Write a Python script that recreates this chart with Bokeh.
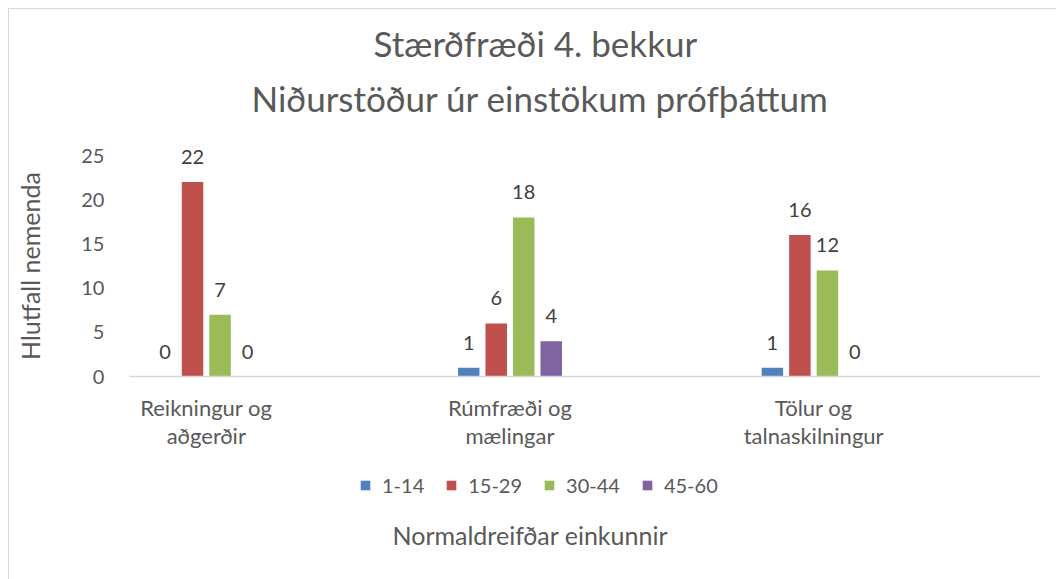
import math
from bokeh.plotting import figure
from bokeh.models import Range1d, FixedTicker, Legend, LegendItem, Title, ColumnDataSource, Label
from bokeh.transform import dodge
from bokeh.core.properties import value
from bokeh.embed import file_html
from bokeh.resources import INLINE

# ---- data ----
categories = ["Reikningur og\naðgerðir", "Rúmfræði og\nmælingar", "Tölur og\ntalnaskilningur"]
series_names = ["1-14", "15-29", "30-44", "45-60"]
s_1_14 = [0, 1, 1]
s_15_29 = [22, 6, 16]
s_30_44 = [7, 18, 12]
s_45_60 = [0, 4, 0]
y_ticks = [0, 5, 10, 15, 20, 25]

series_values = [s_1_14, s_15_29, s_30_44, s_45_60]
colors = ["#4F81BD", "#C0504D", "#9BBB59", "#8064A2"]

FONT = "Lato"
AXIS_TEXT = "#595959"

cat_idx = list(range(len(categories)))
data = {"x": cat_idx}
for name, vals in zip(series_names, series_values):
    data[name] = vals
    data[name + "_lbl"] = [str(v) for v in vals]
source = ColumnDataSource(data)

X0, X1 = -0.253, 2.747   # category-axis extent
# the frame reaches left/below the axes so that axis texts and legend drawn inside are not clipped
p = figure(width=1048, height=571, output_backend="svg", toolbar_location=None, title=None,
           x_range=Range1d(-0.648, X1), y_range=Range1d(-15.05, 27.5),
           min_border_left=0, min_border_right=17, min_border_top=124,
           min_border_bottom=71)
p.styles = {"margin-left": "8px", "margin-top": "8px",
            "border-left": "1px solid #d9d9d9", "border-top": "1px solid #d9d9d9"}
p.outline_line_color = None
p.background_fill_color = "white"
p.border_fill_color = "white"
p.xgrid.visible = False
p.ygrid.visible = False

pitch = 0.0906
bar_w = 0.0708
renderers = []
for k, (name, col) in enumerate(zip(series_names, colors)):
    off = (k - 1.5) * pitch
    r = p.vbar(x=dodge("x", off, range=p.x_range), top=name, bottom=0, width=bar_w,
               source=source, fill_color=col, line_color=None)
    renderers.append(r)
    p.text(x=dodge("x", off, range=p.x_range), y=name, text=name + "_lbl", source=source,
           text_align="center", text_baseline="middle", y_offset=-25,
           text_font=value(FONT), text_font_size="20px", text_color="#404040")

# titles (first added is closest to the plot)
t2 = Title(text="Niðurstöður úr einstökum prófþáttum", align="left", offset=242,
           text_font=FONT, text_font_size="35px", text_font_style="normal",
           text_color=AXIS_TEXT, standoff=29)
t1 = Title(text="Stærðfræði 4. bekkur", align="left", offset=364,
           text_font=FONT, text_font_size="35px", text_font_style="normal",
           text_color=AXIS_TEXT, standoff=-6)
p.add_layout(t2, "above")
p.add_layout(t1, "above")

# category axis at value 0
xa = p.xaxis[0]
xa.fixed_location = 0
xa.bounds = (X0, X1)
xa.ticker = FixedTicker(ticks=cat_idx)
xa.major_label_overrides = {i: c for i, c in zip(cat_idx, categories)}
xa.axis_line_color = "#D9D9D9"
xa.axis_line_width = 1.5
xa.major_tick_line_color = None
xa.minor_tick_line_color = None
xa.major_label_standoff = 11
xa.major_label_text_font = FONT
xa.major_label_text_font_size = "22px"
xa.major_label_text_color = AXIS_TEXT
xa.major_label_text_line_height = 1.05

# value axis at the left end of the category axis
ya = p.yaxis[0]
ya.fixed_location = X0
ya.ticker = FixedTicker(ticks=y_ticks)
ya.axis_line_color = None
ya.major_tick_line_color = None
ya.minor_tick_line_color = None
ya.major_label_standoff = 19
ya.major_label_text_font = FONT
ya.major_label_text_font_size = "20px"
ya.major_label_text_color = AXIS_TEXT

# value-axis title
yt = Label(x=-0.579, y=(y_ticks[0] + y_ticks[-1]) / 2, text="Hlutfall nemenda", angle=math.pi / 2,
           text_align="center", text_baseline="middle",
           text_font=FONT, text_font_size="25px", text_color=AXIS_TEXT)
p.add_layout(yt)

legend = Legend(items=[LegendItem(label=n, renderers=[r]) for n, r in zip(series_names, renderers)],
                orientation="horizontal", location=(350, 12),
                glyph_width=12, glyph_height=12, label_standoff=11, spacing=21,
                padding=0, margin=0, border_line_color=None, background_fill_alpha=0,
                label_text_font=FONT, label_text_font_size="20px", label_text_color=AXIS_TEXT)
p.add_layout(legend, "center")

# category-axis title
xt = Title(text="Normaldreifðar einkunnir", align="left", offset=383,
           text_font=FONT, text_font_size="25px", text_font_style="normal",
           text_color=AXIS_TEXT, standoff=16)
p.add_layout(xt, "below")

open("out.html", "w").write(file_html(p, INLINE))
